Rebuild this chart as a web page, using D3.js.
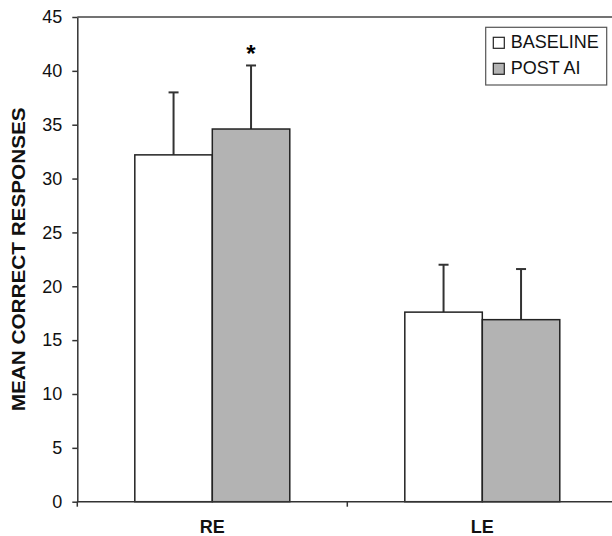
<!DOCTYPE html>
<html>
<head>
<meta charset="utf-8">
<title>Mean correct responses</title>
<style>
body {
  margin: 0;
  background: #fff;
  font-family: "Liberation Sans", Arial, sans-serif;
}

svg {
  display: block;
}

.axis path, .axis line {
  stroke: #333;
  stroke-width: 1.5px;
}

.axis text {
  font: 18px "Liberation Sans", Arial, sans-serif;
  fill: #111;
}

.bar {
  stroke: #222;
  stroke-width: 1.5px;
}

.err {
  stroke: #333;
  stroke-width: 2px;
  fill: none;
}
</style>
<script src="https://d3js.org/d3.v7.min.js"></script>
</head>
<body>
<script>
// values
const categories = ['RE', 'LE'];
const seriesNames = ['BASELINE', 'POST AI'];
const baseline = [32.2, 17.6];
const baselineSD = [5.8, 4.4];
const postAI = [34.6, 16.9];
const postAISD = [5.9, 4.7];
const yTicks = [0, 5, 10, 15, 20, 25, 30, 35, 40, 45];
const significant = [[false, false], [true, false]]; // [series][category]

const width = 612,
  height = 536;

const plot = {left: 77.3, right: 617.3, top: 17, bottom: 501.7};

const colors = ['#ffffff', '#b3b3b3'];

let svg = d3.select('body').append('svg')
  .attr('width', width)
  .attr('height', height);

let x0 = d3.scaleBand()
  .domain(categories)
  .range([plot.left, plot.right])
  .paddingInner(0.426)
  .paddingOuter(0.213);

let x1 = d3.scaleBand()
  .domain(seriesNames)
  .range([0, x0.bandwidth()]);

let y = d3.scaleLinear()
  .domain([0, 45])
  .range([plot.bottom, plot.top]);

let rows = [];
[baseline, postAI].forEach((vals, s) => {
  const sds = s === 0 ? baselineSD : postAISD;
  categories.forEach((c, i) => {
    rows.push({cat: c, series: seriesNames[s], s: s, value: vals[i], sd: sds[i], star: significant[s][i]});
  });
});

// top frame line
svg.append('line')
  .attr('x1', plot.left).attr('x2', plot.right)
  .attr('y1', y(45)).attr('y2', y(45))
  .attr('stroke', '#444')
  .attr('stroke-width', 1.5);

// y axis
let yAxis = svg.append('g')
  .attr('class', 'axis')
  .attr('transform', 'translate(' + plot.left + ',0)')
  .call(d3.axisLeft(y).tickValues(yTicks).tickSize(5).tickPadding(10).tickSizeOuter(0));

// error bars (drawn before the bars so the stems start at the bar top)
let err = svg.append('g').selectAll('g')
  .data(rows)
  .enter().append('g')
    .attr('class', 'err')
    .attr('transform', d => 'translate(' + (x0(d.cat) + x1(d.series) + x1.bandwidth() / 2) + ',0)');

err.append('line')
  .attr('y1', d => y(d.value))
  .attr('y2', d => y(d.value + d.sd));

err.append('line')
  .attr('x1', -5).attr('x2', 5)
  .attr('y1', d => y(d.value + d.sd))
  .attr('y2', d => y(d.value + d.sd));

// bars
svg.append('g').selectAll('rect')
  .data(rows)
  .enter().append('rect')
    .attr('class', 'bar')
    .attr('x', d => x0(d.cat) + x1(d.series))
    .attr('y', d => y(d.value))
    .attr('width', x1.bandwidth())
    .attr('height', d => y(0) - y(d.value))
    .attr('fill', d => colors[d.s]);

// significance star
svg.append('g').selectAll('text')
  .data(rows.filter(d => d.star))
  .enter().append('text')
    .attr('x', d => x0(d.cat) + x1(d.series) + x1.bandwidth() / 2)
    .attr('y', d => y(d.value + d.sd) - 3)
    .attr('text-anchor', 'middle')
    .style('font', 'bold 24px "Liberation Sans", Arial, sans-serif')
    .text('*');

// x axis with ticks between the groups
let xAxis = svg.append('g')
  .attr('class', 'axis')
  .attr('transform', 'translate(0,' + y(0) + ')');

xAxis.append('line')
  .attr('x1', plot.left).attr('x2', plot.right);

xAxis.selectAll('.sep')
  .data([plot.left, (plot.left + plot.right) / 2, plot.right])
  .enter().append('line')
    .attr('class', 'sep')
    .attr('x1', d => d).attr('x2', d => d)
    .attr('y1', 0).attr('y2', 5);

xAxis.selectAll('.cat')
  .data(categories)
  .enter().append('text')
    .attr('class', 'cat')
    .attr('x', d => x0(d) + x0.bandwidth() / 2)
    .attr('y', 31.5)
    .attr('text-anchor', 'middle')
    .style('font-weight', 'bold')
    .text(d => d);

// y title
svg.append('text')
  .attr('transform', 'translate(25,' + (plot.top + plot.bottom) / 2 + ') rotate(-90)')
  .attr('text-anchor', 'middle')
  .attr('textLength', 304)
  .attr('lengthAdjust', 'spacingAndGlyphs')
  .style('font', 'bold 19px "Liberation Sans", Arial, sans-serif')
  .style('fill', '#111')
  .text('MEAN CORRECT RESPONSES');

// legend
let legend = svg.append('g')
  .attr('transform', 'translate(485.7,27.3)');

legend.append('rect')
  .attr('width', 121)
  .attr('height', 57.7)
  .attr('fill', '#fff')
  .attr('stroke', '#555')
  .attr('stroke-width', 1.2);

let item = legend.selectAll('.item')
  .data(seriesNames)
  .enter().append('g')
    .attr('class', 'item')
    .attr('transform', (d, i) => 'translate(7.6,' + (10 + i * 26) + ')');

item.append('rect')
  .attr('width', 11)
  .attr('height', 11)
  .attr('fill', (d, i) => colors[i])
  .attr('stroke', '#222')
  .attr('stroke-width', 1.2);

item.append('text')
  .attr('x', 17.4)
  .attr('y', 11)
  .style('font', '18px "Liberation Sans", Arial, sans-serif')
  .style('fill', '#111')
  .text(d => d);
</script>
</body>
</html>
